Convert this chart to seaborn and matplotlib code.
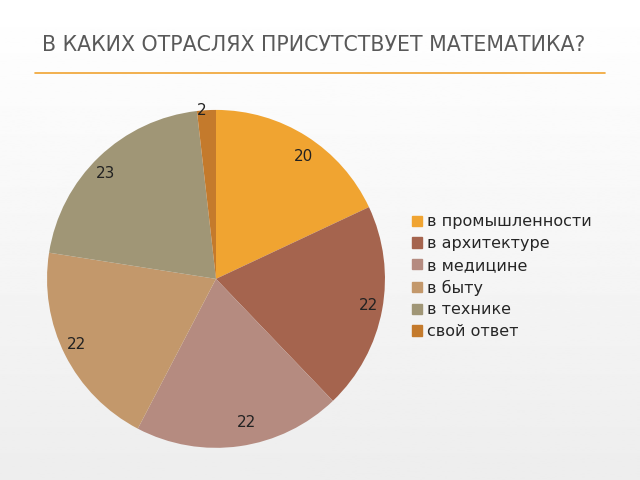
import matplotlib
matplotlib.use("Agg")
import matplotlib.pyplot as plt
import seaborn as sns
import numpy as np
from matplotlib.lines import Line2D
from matplotlib.patches import Patch

sns.set_theme(style="white")
plt.rcParams['font.family'] = ['DejaVu Sans']

categories = ["в промышленности", "в архитектуре", "в медицине", "в быту", "в технике", "свой ответ"]
values = [20, 22, 22, 22, 23, 2]
colors = ["#F0A431", "#A5644E", "#B58B80", "#C3986B", "#A09676", "#C47A2C"]

fig = plt.figure(figsize=(6.4, 4.8), dpi=100)
bg = fig.add_axes([0, 0, 1, 1], zorder=-10)
grad = np.linspace(1.0, 0.93, 256).reshape(-1, 1)
bg.imshow(grad, cmap="gray", vmin=0, vmax=1, aspect="auto", extent=[0, 1, 0, 1])
bg.axis("off")

fig.text(42/640, 1-45/480, "В КАКИХ ОТРАСЛЯХ ПРИСУТСТВУЕТ МАТЕМАТИКА?", fontsize=14.8,
         color="#595959", va="center", ha="left")
fig.add_artist(Line2D([35/640, 605/640], [1-73/480, 1-73/480], color="#F0A431", lw=1.2))

ax = fig.add_axes([0.0735, 0.067, 0.528, 0.704])
wedges, texts = ax.pie(values, colors=colors, startangle=90, counterclock=False,
                       labels=[str(v) for v in values], labeldistance=0.86,
                       wedgeprops=dict(linewidth=0),
                       textprops=dict(fontsize=11, color="#222222"))
x, y = texts[-1].get_position()
texts[-1].set_position((x/0.86*1.0, y/0.86*1.0))
ax.set_xlim(-1, 1)
ax.set_ylim(-1, 1)
ax.set_aspect("equal")
ax.axis("off")

handles = [Patch(color=c) for c in colors]
fig.legend(handles, categories, loc="upper left", bbox_to_anchor=(406/640, 1-208/480),
           frameon=False, fontsize=11.5, handlelength=0.6, handleheight=0.6,
           handletextpad=0.3, labelspacing=0.42, borderaxespad=0)
fig.savefig("out.png", dpi=100)
